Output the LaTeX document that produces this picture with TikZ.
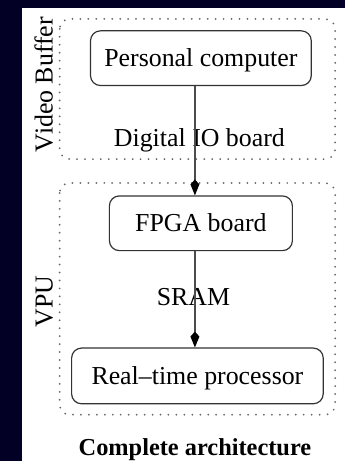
\documentclass[tikz,border=0pt]{standalone}
\usepackage{fontspec}
\setmainfont{Liberation Serif}
\usetikzlibrary{positioning,arrows.meta}
\usepackage{xcolor}
\definecolor{slidebg}{RGB}{3,0,38}

\begin{document}
\begin{tikzpicture}[x=1pt,y=-1pt,>={Kite[length=16pt,width=9pt,inset=5pt,color=black]},
  every node/.style={font=\fontsize{26}{30}\selectfont},
  unit/.style={draw=black!80,line width=1.2pt,rounded corners=10pt,inner sep=0pt,text height=17pt,text depth=0pt},
  group/.style={draw=black!60,line width=2pt,dash pattern=on 0pt off 8pt,line cap=round,rounded corners=10pt},
  link/.style={->,draw=black!70,line width=1.2pt}]
\fill[slidebg] (0,0) rectangle (347,464);
\fill[white] (22,8) rectangle (347,464);
% the two groups
\draw[group] (60,19) rectangle (337,160);
\draw[group] (60,184) rectangle (337,417);
\node[rotate=90] (vb) at (44,85) {Video Buffer};
\node[rotate=90] (vpu) at (44.5,303) {VPU};
% units
\node[unit,minimum width=222pt,minimum height=55pt] (pc) at (202,58.5) {Personal computer};
\node[unit,minimum width=184pt,minimum height=55pt] (fpga) at (202,224.5) {FPGA board};
\node[unit,minimum width=253pt,minimum height=56pt] (rt) at (198.5,378) {Real–time processor};
\node[anchor=base] (io) at (200.5,147) {Digital IO board};
\node[anchor=base] (sram) at (194.5,307) {SRAM};
\draw[link] ([xshift=-6pt]pc.south) -- ([xshift=-6pt]fpga.north);
\draw[link] ([xshift=-6pt]fpga.south) -- ([xshift=-2.5pt]rt.north);
\node[anchor=base,font=\fontsize{24.5}{30}\selectfont\bfseries] (title) at (196,458) {Complete architecture};
\end{tikzpicture}
\end{document}
